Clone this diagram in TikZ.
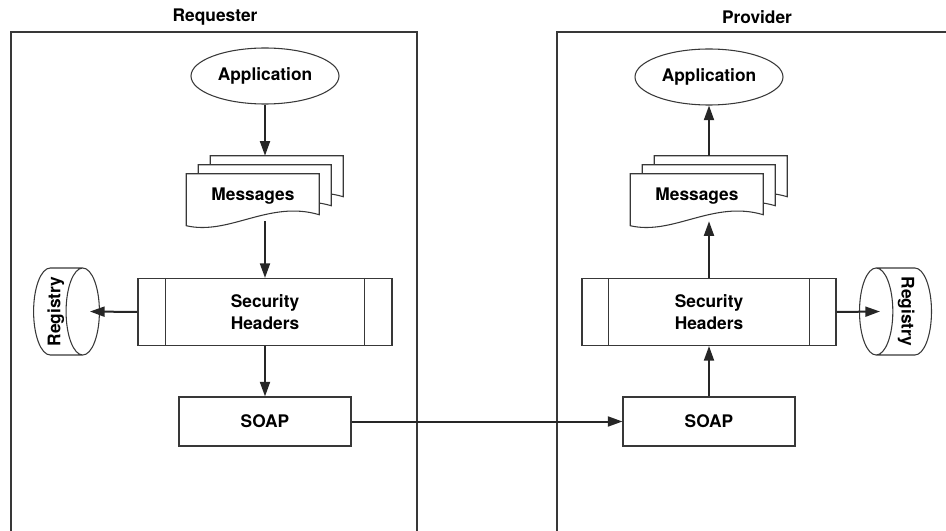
\documentclass[tikz,border=0pt]{standalone}
\usepackage{fontspec}
\setmainfont{TeX Gyre Heros}
\usepackage{xcolor}
\definecolor{linegray}{gray}{0.22}
\usetikzlibrary{calc}
\usetikzlibrary{shapes.geometric}
\usetikzlibrary{arrows.meta}

\begin{document}
\begin{tikzpicture}[x=0.75pt, y=-0.75pt,
  font=\bfseries\fontsize{13}{16.5}\selectfont,
  frame/.style={draw=linegray, line width=0.8pt},
  app/.style={ellipse, draw=linegray, line width=0.8pt, minimum width=111pt, minimum height=42pt, inner sep=0pt},
  stack/.style={rectangle, minimum width=117.75pt, minimum height=48.75pt, inner sep=0pt},
  page/.style={draw=linegray, fill=white, line width=0.8pt},
  secbox/.style={rectangle, draw=linegray, line width=0.8pt, minimum width=190.5pt, minimum height=50.25pt, align=center},
  soapbox/.style={rectangle, draw=linegray, line width=0.8pt, minimum width=129pt, minimum height=36.75pt},
  reg/.style={cylinder, draw=linegray, line width=0.8pt, minimum width=65.25pt, minimum height=47.25pt, aspect=0.46, inner sep=1pt, anchor=shape center},
  arr/.style={draw=black!85, line width=1.5pt, -{Triangle[length=11pt,width=7.5pt]}}]
\useasboundingbox (0,0) rectangle (946,531);

\node (req) at (215,17) {Requester};
\node (prov) at (757,17) {Provider};
\draw[frame] (11,531) -- (11,32) -- (417,32) -- (417,531);
\draw[frame] (557,531) -- (557,32) -- (946,32);

% requester side
\node[app] (app1) at (265,76) {Application};
\node[stack] (msg1) at (265,188.5) {};
\foreach \s in {24,12,0}
  \draw[page] ($(msg1.north west)+(\s,18-0.75*\s)$) -- ++(133,0) -- ++(0,41)
    .. controls ++(-50,-15) and ++(43,10) .. ++(-133,11) -- cycle;
\node (msgtxt1) at ($(msg1.center)+(-12,8)$) {Messages};
\node[secbox] (sec1) at (265,312) {Security\\Headers};
\draw[frame] ($(sec1.north west)+(28,0)$) -- ($(sec1.south west)+(28,0)$);
\draw[frame] ($(sec1.north east)+(-28,0)$) -- ($(sec1.south east)+(-28,0)$);
\node[soapbox] (soap1) at (265,421.5) {SOAP};
\node[reg] (reg1) at (66.5,311.5) {\rotatebox{90}{Registry}};

% provider side
\node[app] (app2) at (709,77) {Application};
\node[stack] (msg2) at (709,188.5) {};
\foreach \s in {24,12,0}
  \draw[page] ($(msg2.north west)+(\s,18-0.75*\s)$) -- ++(133,0) -- ++(0,41)
    .. controls ++(-50,-15) and ++(43,10) .. ++(-133,11) -- cycle;
\node (msgtxt2) at ($(msg2.center)+(-12,8)$) {Messages};
\node[secbox] (sec2) at (709,312) {Security\\Headers};
\draw[frame] ($(sec2.north west)+(27,0)$) -- ($(sec2.south west)+(27,0)$);
\draw[frame] ($(sec2.north east)+(-27,0)$) -- ($(sec2.south east)+(-27,0)$);
\node[soapbox] (soap2) at (709,421.5) {SOAP};
\node[reg, shape border rotate=180, minimum height=54pt] (reg2) at (895.5,311.5) {\rotatebox{-90}{Registry}};

\draw[arr] (app1.south) -- (msg1.north);
\draw[arr] (msg1.south) -- (sec1.north);
\draw[arr] (sec1.south) -- (soap1.north);
\draw[arr] (sec1.west) -- ($(reg1.east)+(-10,0)$);
\draw[arr] (soap1.east) -- (soap2.west);
\draw[arr] (soap2.north) -- (sec2.south);
\draw[arr] (sec2.north) -- (msg2.south);
\draw[arr] (msg2.north) -- (app2.south);
\draw[arr] (sec2.east) -- ($(reg2.west)+(21,0)$);
\end{tikzpicture}
\end{document}
